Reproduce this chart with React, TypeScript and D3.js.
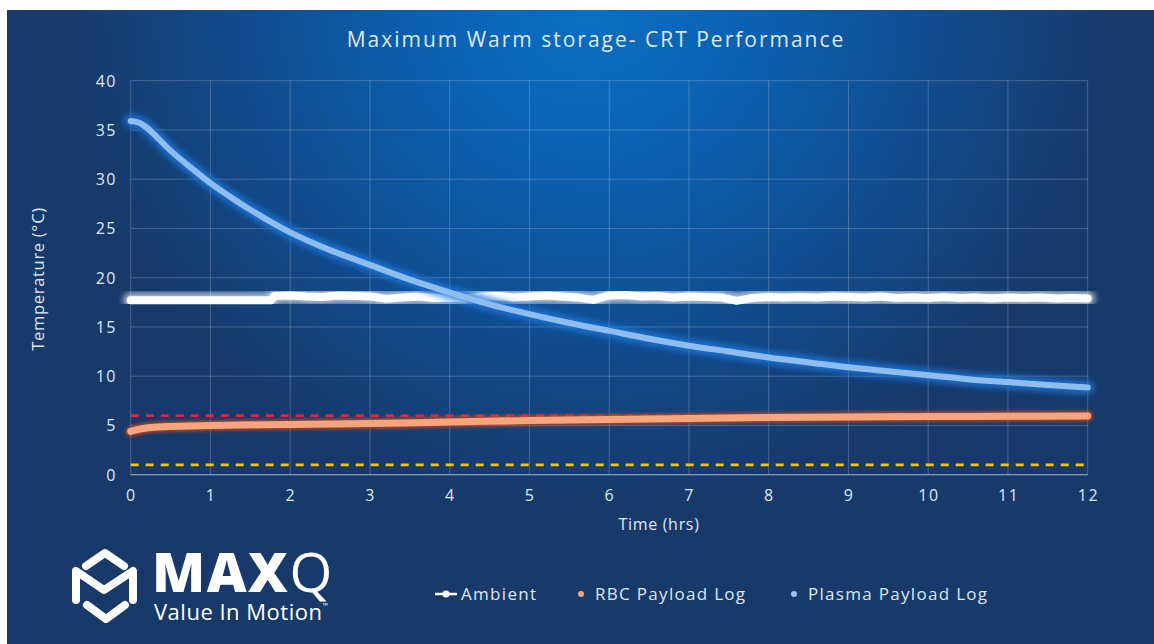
import React from "react";
import * as d3 from "d3";

// Hours since start of the log
const plasmaHours = [0, 0.1, 0.2, 0.3, 0.5, 0.75, 1, 1.25, 1.5, 2, 2.5, 3, 3.5, 4, 4.5, 5, 5.5, 6, 6.5, 7, 7.5, 8, 8.5, 9, 9.5, 10, 10.5, 11, 11.5, 12];
const plasmaTemps = [35.9, 35.75, 35.25, 34.5, 32.9, 31.2, 29.6, 28.2, 26.9, 24.6, 22.8, 21.3, 19.8, 18.5, 17.3, 16.3, 15.4, 14.6, 13.8, 13.1, 12.5, 11.9, 11.4, 10.9, 10.5, 10.1, 9.7, 9.4, 9.1, 8.85];

const rbcHours = [0, 0.1, 0.2, 0.35, 0.5, 1, 2, 3, 4, 5, 6, 7, 8, 9, 10, 11, 12];
const rbcTemps = [4.4, 4.6, 4.75, 4.85, 4.9, 5.0, 5.1, 5.2, 5.35, 5.5, 5.6, 5.7, 5.8, 5.85, 5.9, 5.93, 5.97];

const ambientHours = [0, 0.4, 0.8, 1.2, 1.6, 1.76, 1.8, 2.0, 2.2, 2.4, 2.6, 2.8, 3.0, 3.2, 3.4, 3.6, 3.8, 4.0, 4.2, 4.4, 4.6, 4.8, 5.0, 5.2, 5.4, 5.6, 5.8, 6.0, 6.2, 6.4, 6.6, 6.8, 7.0, 7.2, 7.4, 7.6, 7.8, 8.0, 8.2, 8.4, 8.6, 8.8, 9.0, 9.2, 9.4, 9.6, 9.8, 10.0, 10.2, 10.4, 10.6, 10.8, 11.0, 11.2, 11.4, 11.6, 11.8, 12.0];
const ambientTemps = [17.7, 17.7, 17.7, 17.7, 17.7, 17.7, 18.15, 18.2, 18.1, 18.05, 18.2, 18.15, 18.1, 17.85, 18.0, 18.1, 17.95, 18.0, 17.9, 18.1, 18.15, 18.0, 18.1, 18.2, 18.1, 18.0, 17.75, 18.2, 18.25, 18.1, 18.15, 18.0, 18.1, 18.05, 18.0, 17.65, 17.95, 18.05, 18.0, 18.05, 18.0, 18.1, 18.05, 18.0, 18.1, 17.95, 18.0, 17.95, 18.05, 17.95, 18.0, 17.9, 18.0, 17.95, 18.0, 17.9, 17.95, 17.9];

// Storage limits (°C)
const upperLimit = 6;
const lowerLimit = 1;

const xTicks = [0, 1, 2, 3, 4, 5, 6, 7, 8, 9, 10, 11, 12];
const yTicks = [0, 5, 10, 15, 20, 25, 30, 35, 40];

const legendItems = ["Ambient", "RBC Payload Log", "Plasma Payload Log"];

const FONT = "'Open Sans', Lato, sans-serif";
const TEXT = "#dfe7f1";

type Pt = [number, number];

export default function App() {
  const x = d3.scaleLinear().domain([0, 12]).range([130.7, 1087.7]);
  const y = d3.scaleLinear().domain([0, 40]).range([474.7, 80.7]);

  const smooth = d3
    .line<Pt>()
    .x((d) => x(d[0]))
    .y((d) => y(d[1]))
    .curve(d3.curveCatmullRom.alpha(0.5));
  const jagged = d3
    .line<Pt>()
    .x((d) => x(d[0]))
    .y((d) => y(d[1]))
    .curve(d3.curveLinear);

  const plasmaPath = smooth(plasmaHours.map((h, i) => [h, plasmaTemps[i]] as Pt))!;
  const rbcPath = smooth(rbcHours.map((h, i) => [h, rbcTemps[i]] as Pt))!;
  const ambientPath = jagged(ambientHours.map((h, i) => [h, ambientTemps[i]] as Pt))!;

  const [x0, x1] = x.range();

  return (
    <svg
      width={1154}
      height={644}
      style={{ position: "absolute", left: 0, top: 0 }}
      fontFamily={FONT}
    >
      <defs>
        <radialGradient
          id="bg"
          gradientUnits="userSpaceOnUse"
          cx={590}
          cy={10}
          r={520}
          gradientTransform="translate(590 10) scale(1 0.95) translate(-590 -10)"
        >
          <stop offset="0" stopColor="#0a6fc3" />
          <stop offset="0.35" stopColor="#0b5fae" />
          <stop offset="0.7" stopColor="#124a8b" />
          <stop offset="1" stopColor="#173a6b" />
        </radialGradient>
        <filter id="glowSoft" x="-10%" y="-50%" width="120%" height="200%">
          <feGaussianBlur stdDeviation="3" />
        </filter>
        <filter id="glowSmall" x="-10%" y="-50%" width="120%" height="200%">
          <feGaussianBlur stdDeviation="1.5" />
        </filter>
      </defs>

      <rect x={0} y={0} width={1154} height={644} fill="#ffffff" />
      <rect x={7} y={10} width={1147} height={634} fill="#173a6b" />
      <rect x={7} y={10} width={1147} height={634} fill="url(#bg)" />

      {/* title */}
      <text x={596} y={47} textAnchor="middle" fontSize={21} fill={TEXT} letterSpacing={2}>
        Maximum Warm storage- CRT Performance
      </text>

      {/* grid */}
      <g stroke="rgba(200,205,215,0.28)" strokeWidth={1}>
        {yTicks.map((t) => (
          <line key={"gy" + t} x1={x0} x2={x1} y1={y(t)} y2={y(t)} />
        ))}
        {xTicks.map((t) => (
          <line key={"gx" + t} x1={x(t)} x2={x(t)} y1={y(40)} y2={y(0)} />
        ))}
      </g>
      <line x1={x0} x2={x1} y1={y(0)} y2={y(0)} stroke="rgba(215,220,230,0.5)" strokeWidth={1.2} />

      {/* tick labels */}
      <g fontSize={16} fill={TEXT} letterSpacing={1.5}>
        {yTicks.map((t) => (
          <text key={"ly" + t} x={117} y={y(t) + 6} textAnchor="end">
            {t}
          </text>
        ))}
        {xTicks.map((t) => (
          <text key={"lx" + t} x={x(t) + 0.75} y={501} textAnchor="middle">
            {t}
          </text>
        ))}
      </g>

      <text x={659} y={530} textAnchor="middle" fontSize={16} fill={TEXT} letterSpacing={0.7}>
        Time (hrs)
      </text>
      <text
        transform="translate(44 279) rotate(-90)"
        textAnchor="middle"
        fontSize={16.5}
        fill={TEXT}
        letterSpacing={0.7}
      >
        Temperature (°C)
      </text>

      {/* limit lines */}
      <line x1={x0} x2={x1} y1={y(upperLimit)} y2={y(upperLimit)} stroke="rgba(110,30,80,0.55)" strokeWidth={9} filter="url(#glowSmall)" />
      <line x1={x0} x2={x1} y1={y(upperLimit)} y2={y(upperLimit)} stroke="#e0263a" strokeWidth={2.6} strokeDasharray="8 7" />
      <line x1={x0} x2={x1} y1={y(lowerLimit)} y2={y(lowerLimit)} stroke="rgba(90,95,70,0.6)" strokeWidth={9} filter="url(#glowSmall)" />
      <line x1={x0} x2={x1} y1={y(lowerLimit)} y2={y(lowerLimit)} stroke="#f2c31a" strokeWidth={2.6} strokeDasharray="8 7" />

      {/* RBC payload */}
      <path d={rbcPath} fill="none" stroke="#c8461e" strokeWidth={11} strokeLinecap="round" opacity={0.75} filter="url(#glowSmall)" />
      <path d={rbcPath} fill="none" stroke="#f6a67c" strokeWidth={7} strokeLinecap="round" />

      {/* Ambient */}
      <path d={ambientPath} fill="none" stroke="#ffffff" strokeWidth={15} strokeLinecap="round" opacity={0.7} filter="url(#glowSoft)" />
      <path d={ambientPath} fill="none" stroke="#ffffff" strokeWidth={8} strokeLinecap="round" strokeLinejoin="round" />

      {/* Plasma payload */}
      <path d={plasmaPath} fill="none" stroke="#1f78e0" strokeWidth={13} strokeLinecap="round" opacity={0.85} filter="url(#glowSoft)" />
      <path d={plasmaPath} fill="none" stroke="#90bdf0" strokeWidth={6} strokeLinecap="round" />

      {/* legend */}
      <g fontSize={17} fill={TEXT} letterSpacing={1.3}>
        <line x1={435} x2={457} y1={594} y2={594} stroke="#ffffff" strokeWidth={2.5} />
        <circle cx={446} cy={594} r={3.5} fill="#ffffff" />
        <text x={461} y={600}>{legendItems[0]}</text>
        <circle cx={581} cy={594} r={3} fill="#f2a47c" />
        <text x={595} y={600}>{legendItems[1]}</text>
        <circle cx={794} cy={594} r={3} fill="#9cc3ee" />
        <text x={808} y={600}>{legendItems[2]}</text>
      </g>

      {/* logo */}
      <g stroke="#ffffff" strokeWidth={8} strokeLinecap="round" strokeLinejoin="round" fill="none">
        <polyline points="86,566 105,553 124,566" />
        <polyline points="76,600 76,571 104,590 133,571 133,600" />
        <polyline points="87,605 106,619 125,605" />
      </g>
      <text x={152} y={592} fontSize={55} fontWeight={800} fill="#ffffff" letterSpacing={1.5}>
        MAX<tspan fontWeight={400}>Q</tspan>
      </text>
      <text x={154} y={620} fontSize={22} fill="#ffffff" letterSpacing={0.5}>
        Value In Motion<tspan fontSize={7} dy={-12}>™</tspan>
      </text>
    </svg>
  );
}
